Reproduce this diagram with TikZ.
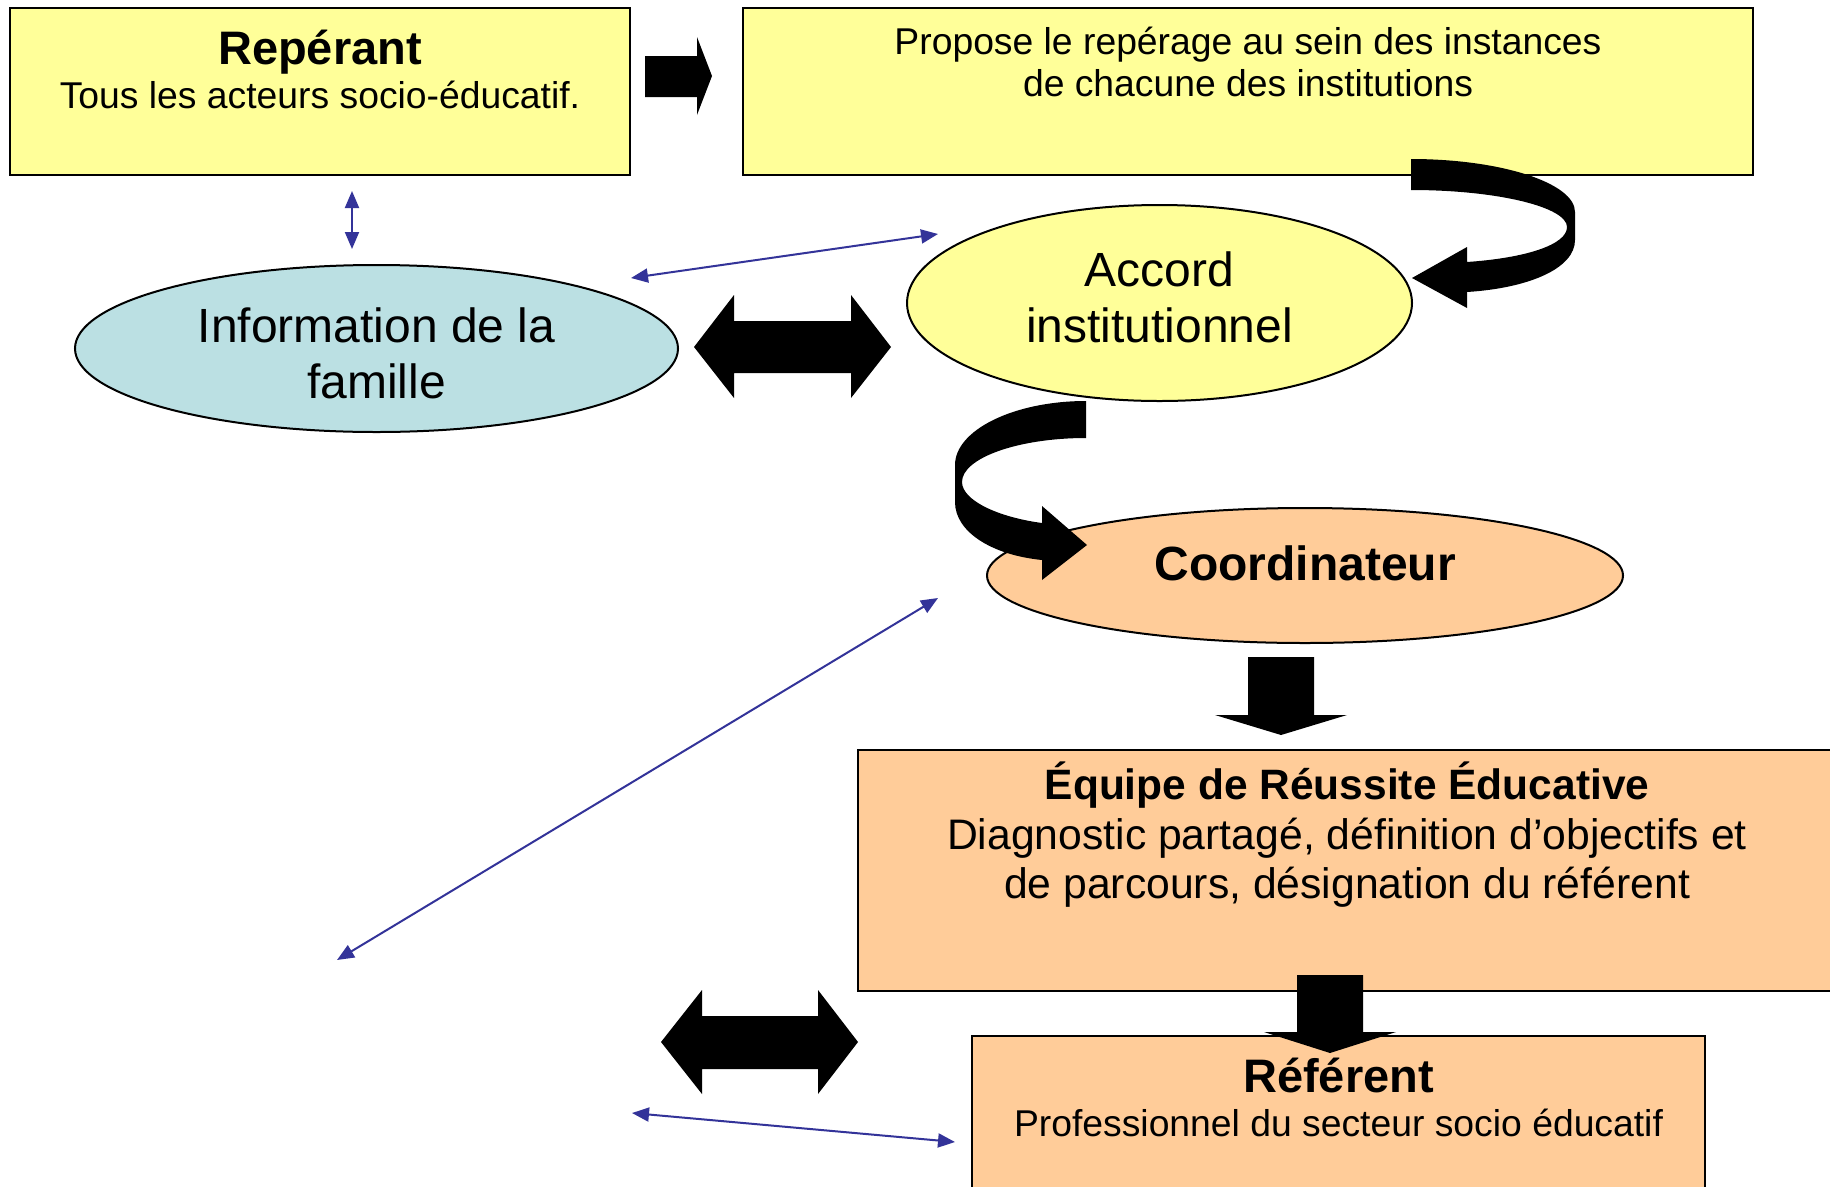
\documentclass[tikz,border=0pt]{standalone}
\usepackage{fontspec}
\setmainfont{Liberation Sans}
\usetikzlibrary{arrows.meta,shapes.geometric}
\definecolor{ylw}{HTML}{FFFF99}
\definecolor{lblue}{HTML}{BBE0E3}
\definecolor{org}{HTML}{FFCC99}
\definecolor{navy}{HTML}{333399}
\begin{document}
\begin{tikzpicture}[x=1pt,y=-1pt,
  boxshape/.style={draw=black, line width=2pt, rectangle, inner sep=0pt},
  ellshape/.style={draw=black, line width=2pt, ellipse, inner sep=0pt},
  txt/.style={anchor=base, inner sep=0pt},
  bfa/.style={font=\fontsize{47}{50}\selectfont\bfseries},
  bfb/.style={font=\fontsize{42.5}{46}\selectfont\bfseries},
  rga/.style={font=\fontsize{37.3}{40}\selectfont},
  rgb/.style={font=\fontsize{48}{52}\selectfont},
  rgc/.style={font=\fontsize{42.7}{46}\selectfont},
  link/.style={draw=navy, line width=2pt, {Triangle[length=17pt,width=14pt]}-{Triangle[length=17pt,width=14pt]}},
  blk/.style={fill=black}
]
\useasboundingbox (0,0) rectangle (1830,1186);
\fill[white] (0,0) rectangle (1830,1186);
\clip (0,0) rectangle (1830,1186);

% boxes and ellipses
\node[boxshape, fill=ylw, minimum width=620pt, minimum height=167pt] (rep) at (320,91.5) {};
\node[boxshape, fill=ylw, minimum width=1010pt, minimum height=167pt] (prop) at (1248,91.5) {};
\node[ellshape, fill=ylw, minimum width=505pt, minimum height=196pt] (acc) at (1159.5,303) {};
\node[ellshape, fill=lblue, minimum width=603pt, minimum height=167pt] (inf) at (376.5,348.5) {};
\node[ellshape, fill=org, minimum width=636pt, minimum height=135pt] (coo) at (1305,575.5) {};
\node[boxshape, fill=org, minimum width=978pt, minimum height=241pt] (equ) at (1347,870.5) {};
\node[boxshape, fill=org, minimum width=733pt, minimum height=184pt] (ref) at (1338.5,1128) {};

% block arrows
\fill[blk] (645,56) -- (697,56) -- (697,37) -- (712,76) -- (697,115) -- (697,97) -- (645,97) -- cycle;
\fill[blk] (1411,159) .. controls (1501,159) and (1575,183) .. (1575,212) -- (1575,240)
  .. controls (1575,268) and (1530,288) .. (1467,292) -- (1467,308) -- (1412,278) -- (1467,247) -- (1467,262)
  .. controls (1525,258) and (1567,245) .. (1567,227) .. controls (1567,207) and (1497,190) .. (1411,190) -- cycle;
\fill[blk] (694,347) -- (734,295) -- (734,321) -- (851,321) -- (851,295) -- (891,347) -- (851,398) -- (851,373) -- (734,373) -- (734,398) -- cycle;
\fill[blk] (1086,401) .. controls (1014,401) and (955,430) .. (955,465) -- (955,502)
  .. controls (955,532) and (992,555) .. (1042,560) -- (1042,580) -- (1087,545) -- (1042,506) -- (1042,523)
  .. controls (997,517) and (962,500) .. (962,482) .. controls (962,458) and (1018,438) .. (1086,438) -- cycle;
\fill[blk] (1248,657) -- (1314,657) -- (1314,715) -- (1347,715) -- (1281,735) -- (1215,715) -- (1248,715) -- cycle;
\fill[blk] (661,1042) -- (702,990) -- (702,1016) -- (818,1016) -- (818,990) -- (858,1042) -- (818,1094) -- (818,1069) -- (702,1069) -- (702,1094) -- cycle;
\fill[blk] (1297,975) -- (1363,975) -- (1363,1032) -- (1396,1032) -- (1330,1053) -- (1264,1032) -- (1297,1032) -- cycle;

% texts
\node[txt, bfa] (repT) at (320,64) {Repérant};
\node[txt, rga] (repS) at (320,108) {Tous les acteurs socio-éducatif.};
\node[txt, rga] (propA) at (1248,54) {Propose le repérage au sein des instances};
\node[txt, rga] (propB) at (1248,96) {de chacune des institutions};
\node[txt, rgb] (accA) at (1159.5,286) {Accord};
\node[txt, rgb] (accB) at (1159.5,342) {institutionnel};
\node[txt, rgb] (infA) at (376.5,342) {Information de la};
\node[txt, rgb] (infB) at (376.5,398) {famille};
\node[txt, font=\fontsize{48}{52}\selectfont\bfseries] (cooT) at (1305,580) {Coordinateur};
\node[txt, bfb] (equT) at (1347,799) {Équipe de Réussite Éducative};
\node[txt, rgc] (equA) at (1347,849) {Diagnostic partagé, définition d’objectifs et};
\node[txt, rgc] (equB) at (1347,898) {de parcours, désignation du référent};
\node[txt, font=\fontsize{47}{50}\selectfont\bfseries] (refT) at (1338.5,1092) {Référent};
\node[txt, rga] (refS) at (1338.5,1136) {Professionnel du secteur socio éducatif};

% thin blue connectors
\coordinate (v1) at (352,191);
\coordinate (v2) at (352,249);
\coordinate (d1a) at (631,278);
\coordinate (d1b) at (938,234);
\coordinate (d2a) at (337,960);
\coordinate (d2b) at (938,598);
\coordinate (d3a) at (632,1113);
\coordinate (d3b) at (955,1142);
\draw[link] (v1) -- (v2);
\draw[link] (d1a) -- (d1b);
\draw[link] (d2a) -- (d2b);
\draw[link] (d3a) -- (d3b);
\end{tikzpicture}
\end{document}
